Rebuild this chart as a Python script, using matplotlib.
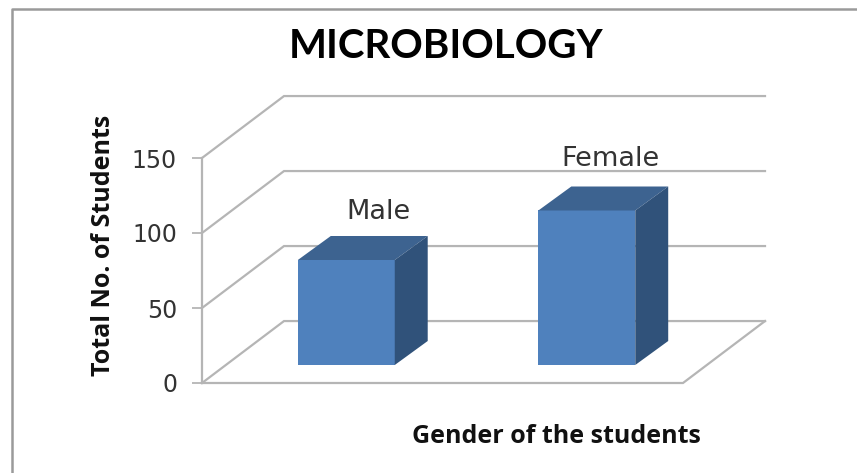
import matplotlib
matplotlib.use('Agg')
from matplotlib import pyplot as plt
from matplotlib.lines import Line2D
from matplotlib.patches import Polygon, Rectangle

categories = ['Male', 'Female']
students = [70, 103]
y_ticks = [0, 50, 100, 150]

W, H = 857, 473
GRID = '#b5b5b5'
FRONT = '#4f81bd'
TOP = '#3d6390'
SIDE = '#30527a'

# depth of the floor and of the bars, in data units
DEPTH_X = 0.341
DEPTH_Y = 41.3
BAR_W = 0.403
BAR_SHIFT = 0.1
BAR_LIFT = 12
BAR_DX = 0.137
BAR_DY = 16
LABEL_DX = [0.232, 0.2]
LABEL_DY = [16, 18]

plt.rcParams['font.family'] = ['DejaVu Sans']

fig = plt.figure(figsize=(W / 100, H / 100), dpi=100)
ax = fig.add_axes([202 / W, 1 - 383 / H, 481 / W, 225 / H])
ax.set_xlim(-0.5, 1.5)
ax.set_ylim(0, 150)
for s in ax.spines.values():
    s.set_visible(False)
ax.patch.set_visible(False)
ax.set_xticks([])
ax.set_yticks(y_ticks)
ax.tick_params(axis='y', length=7, width=1.3, color=GRID, pad=11, labelsize=17, labelcolor='#333333')

x0, x1 = ax.get_xlim()

# wall gridlines and the floor
for t in y_ticks:
    ax.plot([x0, x0 + DEPTH_X, x1 + DEPTH_X], [t, t + DEPTH_Y, t + DEPTH_Y],
            color=GRID, lw=1.6, clip_on=False, zorder=1, solid_joinstyle='miter')
ax.plot([x0, x0], [0, 150], color=GRID, lw=1.6, clip_on=False, zorder=1)
ax.plot([x0, x1, x1 + DEPTH_X], [0, 0, DEPTH_Y], color=GRID, lw=1.6, clip_on=False, zorder=1,
        solid_joinstyle='miter')

for i, (name, val) in enumerate(zip(categories, students)):
    left = i - BAR_W / 2 + BAR_SHIFT
    right = left + BAR_W
    low = BAR_LIFT
    high = val + BAR_LIFT
    ax.add_patch(Rectangle((left, low), BAR_W, val, fc=FRONT, ec='none', clip_on=False, zorder=3))
    ax.add_patch(Polygon([(left, high), (right, high), (right + BAR_DX, high + BAR_DY),
                          (left + BAR_DX, high + BAR_DY)], fc=TOP, ec='none', clip_on=False, zorder=3))
    ax.add_patch(Polygon([(right, low), (right + BAR_DX, low + BAR_DY), (right + BAR_DX, high + BAR_DY),
                          (right, high)], fc=SIDE, ec='none', clip_on=False, zorder=3))
    ax.text(i + LABEL_DX[i], high + BAR_DY + LABEL_DY[i], name, ha='center', va='center',
            fontsize=19.5, color='#333333', zorder=4)

fig.text(446 / W, 1 - 46 / H, 'MICROBIOLOGY', ha='center', va='center', fontsize=29,
         fontweight='bold', family='Lato', color='black')
fig.text(104 / W, 1 - 245 / H, 'Total No. of Students', rotation=90, ha='center', va='center',
         fontsize=18, fontweight='bold', family='Open Sans', color='#111111')
fig.text(556 / W, 1 - 436 / H, 'Gender of the students', ha='center', va='center',
         fontsize=18, fontweight='bold', family='Open Sans', color='#111111')

# chart frame
fig.add_artist(Line2D([11.5 / W, 11.5 / W, 1], [0, 1 - 9 / H, 1 - 9 / H], color='#9a9a9a', lw=1.8))

fig.savefig('out.png', dpi=100, facecolor='white')
